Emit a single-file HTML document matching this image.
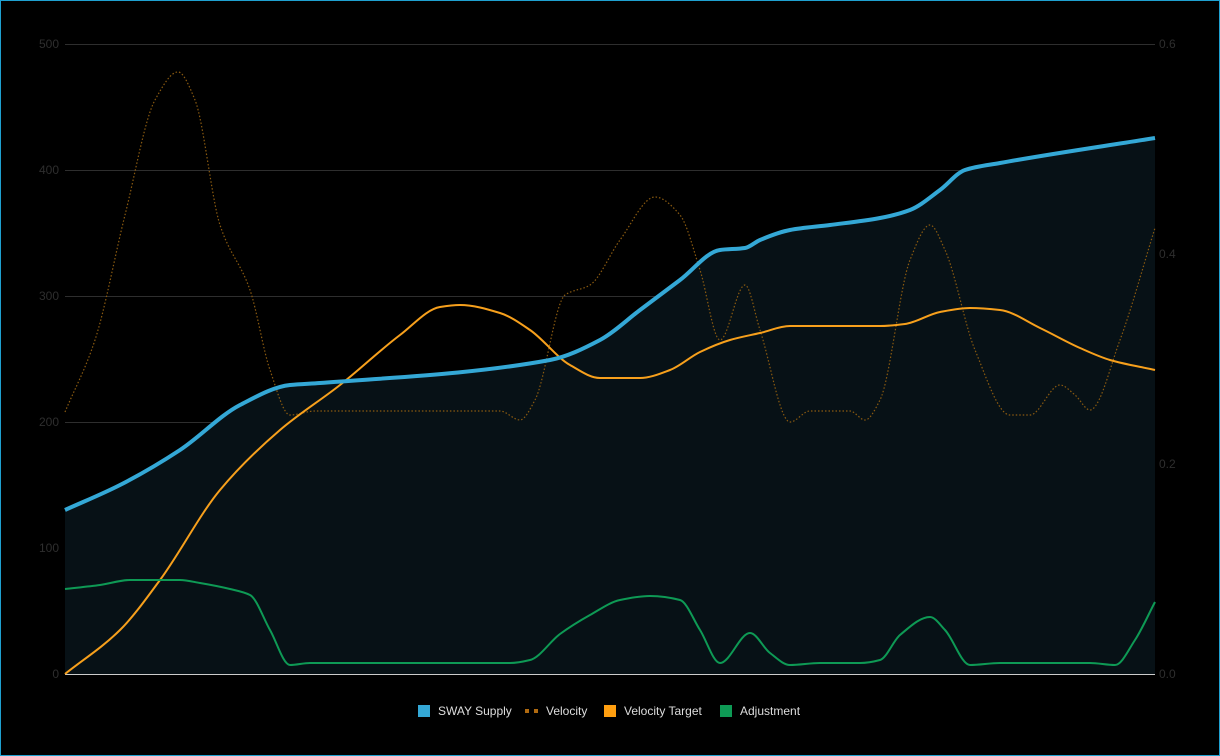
<!DOCTYPE html>
<html><head><meta charset="utf-8"><style>
html,body{margin:0;padding:0;background:#000;}
#w{width:1218px;height:754px;border:1px solid #1fa0d0;position:relative;overflow:hidden;background:#000;}
svg{position:absolute;left:-1px;top:-1px;}
text{font-family:"Liberation Sans",sans-serif;}
</style></head><body><div id="w">
<svg width="1220" height="756" xmlns="http://www.w3.org/2000/svg">
<g stroke="#2e2e2e" stroke-width="1">
<line x1="65" x2="1155" y1="44.5" y2="44.5"/><line x1="65" x2="1155" y1="170.5" y2="170.5"/>
<line x1="65" x2="1155" y1="296.5" y2="296.5"/><line x1="65" x2="1155" y1="422.5" y2="422.5"/>
<line x1="65" x2="1155" y1="548.5" y2="548.5"/>
</g>
<line x1="65" x2="1155" y1="674.5" y2="674.5" stroke="#ccc"/>
<g fill="#2e2e2e" font-size="12" text-anchor="end">
<text x="59" y="48">500</text><text x="59" y="174">400</text><text x="59" y="300">300</text>
<text x="59" y="426">200</text><text x="59" y="552">100</text><text x="59" y="678">0</text>
</g>
<g fill="#2e2e2e" font-size="12">
<text x="1159" y="48">0.6</text><text x="1159" y="258">0.4</text><text x="1159" y="468">0.2</text><text x="1159" y="678">0.0</text>
</g>
<path id="sf" fill="#071116" stroke="none"/>
<path id="vel" fill="none" stroke="#8a5a10" stroke-width="1.2" stroke-dasharray="1.5,2"/>
<path id="vt" fill="none" stroke="#f7a01c" stroke-width="2"/>
<path id="adj" fill="none" stroke="#0e9a55" stroke-width="2"/>
<path id="sup" fill="none" stroke="#34a8d6" stroke-width="4"/>
<g font-size="12" fill="#ddd">
<rect x="418" y="705" width="12" height="12" fill="#34a8d6"/><text x="438" y="715">SWAY Supply</text>
<rect x="525" y="709" width="4" height="4" fill="#b06a10"/><rect x="534" y="709" width="4" height="4" fill="#b06a10"/><text x="546" y="715">Velocity</text>
<rect x="604" y="705" width="12" height="12" fill="#ff9f10"/><text x="624" y="715">Velocity Target</text>
<rect x="720" y="705" width="12" height="12" fill="#0e9a55"/><text x="740" y="715">Adjustment</text>
</g>
</svg>
<script>
function mono(p){var n=p.length,m=[],t=[];
for(var i=0;i<n-1;i++)m.push((p[i+1][1]-p[i][1])/(p[i+1][0]-p[i][0]));
t[0]=m[0];t[n-1]=m[n-2];
for(i=1;i<n-1;i++){if(m[i-1]*m[i]<=0)t[i]=0;else{var h0=p[i][0]-p[i-1][0],h1=p[i+1][0]-p[i][0];t[i]=3*(h0+h1)/((2*h1+h0)/m[i-1]+(h1+2*h0)/m[i]);}}
var d="M"+p[0][0]+","+p[0][1];
for(i=0;i<n-1;i++){var h=(p[i+1][0]-p[i][0])/3;
d+=" C"+(p[i][0]+h)+","+(p[i][1]+t[i]*h)+" "+(p[i+1][0]-h)+","+(p[i+1][1]-t[i+1]*h)+" "+p[i+1][0]+","+p[i+1][1];}
return d;}
var sup=[[65,510],[120,485],[180,450],[240,405],[290,385],[320,383],[550,360],[600,340],[640,310],[680,280],[720,250],[745,248],[760,240],[790,230],[830,225],[880,218],[910,210],[940,190],[965,170],[1000,163],[1155,138]];
var vt=[[65,674],[120,630],[160,580],[220,490],[280,430],[340,385],[400,335],[440,307],[460,305],[500,313],[530,330],[570,365],[600,378],[640,378],[670,370],[700,352],[730,340],[760,333],[790,326],[880,326],[905,324],[940,312],[970,308],[1000,310],[1040,328],[1080,348],[1110,360],[1155,370]];
var vel=[[65,412],[95,340],[125,215],[155,100],[178,72],[195,100],[220,225],[250,290],[270,370],[290,415],[315,411],[500,411],[520,420],[535,400],[565,295],[590,285],[620,240],[655,197],[680,215],[700,270],[720,340],[745,285],[760,330],[790,422],[810,411],[850,411],[865,420],[880,400],[910,260],[930,225],[945,250],[975,350],[1010,415],[1030,415],[1060,385],[1075,395],[1090,410],[1120,340],[1155,228]];
var adj=[[65,589],[100,585],[130,580],[180,580],[200,583],[230,589],[250,595],[270,630],[290,665],[310,663],[510,663],[530,660],[560,634],[590,615],[620,600],[650,596],[680,600],[700,630],[720,663],[750,633],[770,653],[790,665],[820,663],[860,663],[880,660],[900,635],[930,617],[945,630],[970,665],[1000,663],[1090,663],[1115,665],[1135,640],[1155,602]];
var s=mono(sup);
document.getElementById('sup').setAttribute('d',s);
document.getElementById('sf').setAttribute('d',s+" L1155,674 L65,674 Z");
document.getElementById('vt').setAttribute('d',mono(vt));
document.getElementById('vel').setAttribute('d',mono(vel));
document.getElementById('adj').setAttribute('d',mono(adj));
</script>
</div></body></html>
